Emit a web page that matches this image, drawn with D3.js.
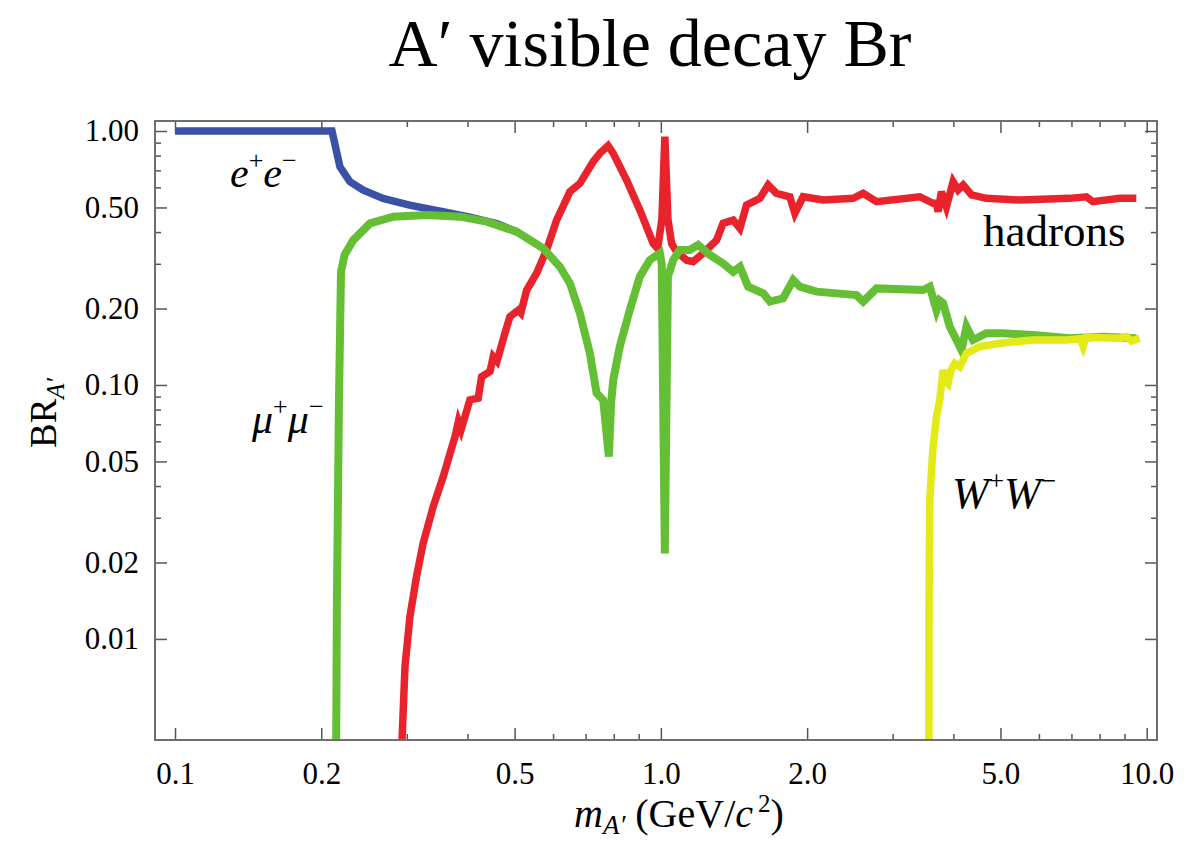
<!DOCTYPE html>
<html>
<head>
<meta charset="utf-8">
<script src="https://cdn.jsdelivr.net/npm/d3@7"></script>
<style>
  body { margin: 0; background: #fff; }
  svg { display: block; }
  text { font-family: "Liberation Serif", "DejaVu Serif", serif; fill: #000; }
</style>
</head>
<body>
<div id="chart"></div>
<script>
var svgWidth = 1189;
var svgHeight = 843;

// plot frame (pixels)
var frame = { left: 155, top: 121, right: 1157, bottom: 740 };

// ticks
var xMajorTicks = [0.1, 0.2, 0.5, 1, 2, 5, 10];
var xMajorLabels = ["0.1", "0.2", "0.5", "1.0", "2.0", "5.0", "10.0"];
var xMinorTicks = [0.3, 0.4, 0.6, 0.7, 0.8, 0.9, 3, 4, 6, 7, 8, 9];
var yMajorTicks = [1, 0.5, 0.2, 0.1, 0.05, 0.02, 0.01];
var yMajorLabels = ["1.00", "0.50", "0.20", "0.10", "0.05", "0.02", "0.01"];
var yMinorTicks = [0.9, 0.8, 0.7, 0.6, 0.4, 0.3, 0.09, 0.08, 0.07, 0.06, 0.04, 0.03];

// series: [mass (GeV), branching ratio]
var eePoints = [
  [0.1, 1.0], [0.2104, 1.0], [0.2185, 0.723], [0.229, 0.632], [0.2436, 0.586],
  [0.268, 0.543], [0.304, 0.511], [0.356, 0.481], [0.4045, 0.458], [0.459, 0.432],
  [0.5047, 0.4015]
];

var muPoints = [
  [0.2145, 0.003], [0.2154, 0.0142], [0.2175, 0.0873], [0.2196, 0.2786], [0.2233, 0.325],
  [0.2328, 0.372], [0.252, 0.433], [0.2813, 0.46], [0.3296, 0.467], [0.386, 0.46],
  [0.438, 0.4395], [0.5047, 0.4015], [0.5727, 0.345], [0.6197, 0.292], [0.65, 0.2513],
  [0.6814, 0.1915], [0.7143, 0.1333], [0.7374, 0.0928], [0.7608, 0.0873], [0.7816, 0.0522],
  [0.79, 0.085], [0.798, 0.1047], [0.823, 0.1415], [0.863, 0.1973], [0.905, 0.267],
  [0.949, 0.3105], [0.9955, 0.33], [1.004, 0.30], [1.019, 0.0217], [1.034, 0.267],
  [1.06, 0.31], [1.093, 0.34], [1.147, 0.340], [1.193, 0.356], [1.2617, 0.325],
  [1.343, 0.301], [1.409, 0.279], [1.4545, 0.292], [1.5124, 0.2438], [1.624, 0.2296],
  [1.677, 0.213], [1.785, 0.2195], [1.872, 0.259], [1.932, 0.2438], [2.091, 0.2331],
  [2.527, 0.226], [2.609, 0.213], [2.779, 0.240], [3.465, 0.2366], [3.577, 0.2438],
  [3.692, 0.197], [3.75, 0.215], [3.81, 0.21], [3.933, 0.1696], [4.06, 0.1504],
  [4.157, 0.137], [4.256, 0.1696], [4.39, 0.1504], [4.677, 0.1598], [5.06, 0.1598],
  [5.93, 0.157], [6.94, 0.1527], [8.13, 0.155], [9.52, 0.1527]
];

var hadronPoints = [
  [0.2915, 0.003], [0.2974, 0.00778], [0.3044, 0.01224], [0.3141, 0.01759], [0.3241, 0.02379],
  [0.34, 0.0332], [0.3565, 0.0436], [0.377, 0.0626], [0.383, 0.0717], [0.388, 0.0667],
  [0.4045, 0.0873], [0.4208, 0.0888], [0.4276, 0.1078], [0.445, 0.113], [0.4518, 0.1292],
  [0.46, 0.124], [0.4775, 0.1598], [0.489, 0.1858], [0.5085, 0.197], [0.515, 0.192],
  [0.5293, 0.236], [0.5549, 0.2754], [0.5818, 0.34], [0.6101, 0.446], [0.65, 0.577],
  [0.6814, 0.622], [0.7255, 0.757], [0.7489, 0.817], [0.7787, 0.875], [0.798, 0.817],
  [0.85, 0.641], [0.905, 0.489], [0.9643, 0.361], [0.985, 0.345], [1.005, 0.45],
  [1.019, 0.95], [1.034, 0.45], [1.052, 0.361], [1.077, 0.335], [1.13, 0.31],
  [1.1655, 0.306], [1.2218, 0.33], [1.302, 0.372], [1.343, 0.433], [1.409, 0.446],
  [1.4545, 0.414], [1.5009, 0.511], [1.5985, 0.543], [1.663, 0.613], [1.73, 0.568],
  [1.8427, 0.551], [1.887, 0.474], [1.9623, 0.551], [2.158, 0.535], [2.487, 0.543],
  [2.609, 0.568], [2.779, 0.527], [3.41, 0.551], [3.634, 0.519], [3.692, 0.519],
  [3.721, 0.481], [3.78, 0.577], [3.87, 0.503], [3.995, 0.631], [4.09, 0.586],
  [4.19, 0.613], [4.36, 0.560], [4.677, 0.543], [5.48, 0.535], [6.94, 0.543],
  [7.51, 0.551], [7.75, 0.527], [8.8, 0.543], [9.52, 0.543]
];

var wwPoints = [
  [3.562, 0.003], [3.565, 0.0142], [3.577, 0.0352], [3.628, 0.0555], [3.692, 0.075],
  [3.75, 0.0873], [3.81, 0.1146], [3.86, 0.104], [3.901, 0.1016], [3.96, 0.115],
  [4.027, 0.1217], [4.124, 0.118], [4.256, 0.1333], [4.534, 0.1415], [4.984, 0.146],
  [5.834, 0.1504], [6.836, 0.1504], [7.3, 0.152], [7.4, 0.142], [7.5, 0.154],
  [8.8, 0.1528], [9.1, 0.155], [9.3, 0.149], [9.67, 0.1528]
];

var svg = d3.select("#chart")
  .append("svg")
  .attr("width", svgWidth)
  .attr("height", svgHeight);

svg.append("rect")
  .attr("width", svgWidth)
  .attr("height", svgHeight)
  .attr("fill", "#fff");

// Scales
var xScale = d3.scaleLog()
  .domain([0.09095, 10.5])
  .range([frame.left, frame.right]);

var yScale = d3.scaleLog()
  .domain([0.004, 1.095])
  .range([frame.bottom, frame.top]);

// Clip for the curves
svg.append("clipPath")
  .attr("id", "plotClip")
  .append("rect")
  .attr("x", frame.left)
  .attr("y", frame.top)
  .attr("width", frame.right - frame.left)
  .attr("height", frame.bottom - frame.top);

var line = d3.line()
  .x(d => xScale(d[0]))
  .y(d => yScale(d[1]));

var curves = svg.append("g").attr("clip-path", "url(#plotClip)");

var seriesList = [
  { points: eePoints, color: "#3a51a8", width: 7.5 },
  { points: hadronPoints, color: "#e8232b", width: 7.5 },
  { points: muPoints, color: "#65bf35", width: 8 },
  { points: wwPoints, color: "#e3ea18", width: 7.5 }
];

seriesList.forEach(function(s) {
  curves.append("path")
    .datum(s.points)
    .attr("d", line)
    .attr("fill", "none")
    .attr("stroke", s.color)
    .attr("stroke-width", s.width);
});

// Axes (ticks point inward)
var tickColor = "#555";

function styleAxis(g) {
  g.select(".domain").remove();
  g.selectAll(".tick line").attr("stroke", tickColor).attr("stroke-width", 1.5);
  g.selectAll(".tick text")
    .attr("font-family", "Liberation Serif, serif")
    .attr("font-size", 31)
    .attr("fill", "#000");
}

svg.append("g")
  .attr("transform", `translate(0, ${frame.bottom})`)
  .call(d3.axisBottom(xScale).tickValues(xMajorTicks)
    .tickFormat((d, i) => xMajorLabels[i]).tickSizeInner(-12).tickPadding(22))
  .call(styleAxis);

svg.append("g")
  .attr("transform", `translate(0, ${frame.bottom})`)
  .call(d3.axisBottom(xScale).tickValues(xMinorTicks).tickFormat("").tickSizeInner(-6))
  .call(styleAxis);

svg.append("g")
  .attr("transform", `translate(0, ${frame.top})`)
  .call(d3.axisTop(xScale).tickValues(xMajorTicks).tickFormat("").tickSizeInner(-12))
  .call(styleAxis);

svg.append("g")
  .attr("transform", `translate(0, ${frame.top})`)
  .call(d3.axisTop(xScale).tickValues(xMinorTicks).tickFormat("").tickSizeInner(-6))
  .call(styleAxis);

svg.append("g")
  .attr("transform", `translate(${frame.left}, 0)`)
  .call(d3.axisLeft(yScale).tickValues(yMajorTicks)
    .tickFormat((d, i) => yMajorLabels[i]).tickSizeInner(-12).tickPadding(16))
  .call(styleAxis);

svg.append("g")
  .attr("transform", `translate(${frame.left}, 0)`)
  .call(d3.axisLeft(yScale).tickValues(yMinorTicks).tickFormat("").tickSizeInner(-6))
  .call(styleAxis);

svg.append("g")
  .attr("transform", `translate(${frame.right}, 0)`)
  .call(d3.axisRight(yScale).tickValues(yMajorTicks).tickFormat("").tickSizeInner(-12))
  .call(styleAxis);

svg.append("g")
  .attr("transform", `translate(${frame.right}, 0)`)
  .call(d3.axisRight(yScale).tickValues(yMinorTicks).tickFormat("").tickSizeInner(-6))
  .call(styleAxis);

// Frame
svg.append("rect")
  .attr("x", frame.left)
  .attr("y", frame.top)
  .attr("width", frame.right - frame.left)
  .attr("height", frame.bottom - frame.top)
  .attr("fill", "none")
  .attr("stroke", "#6e6e6e")
  .attr("stroke-width", 2);

// Title
svg.append("text")
  .attr("x", 650)
  .attr("y", 66)
  .attr("text-anchor", "middle")
  .attr("font-size", 68)
  .text("A\u2032 visible decay Br");

// Y axis label
var yLab = svg.append("text")
  .attr("transform", "translate(56, 413) rotate(-90)")
  .attr("text-anchor", "middle")
  .attr("font-size", 37);
yLab.append("tspan").text("BR");
yLab.append("tspan").attr("font-size", 25).attr("font-style", "italic").attr("dy", 8).text("A\u2032");

// X axis label
var xLab = svg.append("text")
  .attr("x", 574)
  .attr("y", 827)
  .attr("font-size", 40);
xLab.append("tspan").attr("font-style", "italic").text("m");
xLab.append("tspan").attr("font-style", "italic").attr("font-size", 27).attr("dy", 7).text("A\u2032");
xLab.append("tspan").attr("dy", -7).text("\u00a0(GeV/");
xLab.append("tspan").attr("font-style", "italic").text("c");
xLab.append("tspan").attr("font-size", 25).attr("dy", -15).text("\u2009" + "2");
xLab.append("tspan").attr("dy", 15).text(")");

// Curve labels
function pairLabel(x, y, size, base, sign1, sign2, italic) {
  var t = svg.append("text")
    .attr("x", x)
    .attr("y", y)
    .attr("font-size", size)
    .attr("font-style", italic ? "italic" : "normal");
  var sup = Math.round(size * 0.42);
  t.append("tspan").text(base);
  t.append("tspan").attr("font-size", size * 0.62).attr("font-style", "normal").attr("dy", -sup).text(sign1);
  t.append("tspan").attr("dy", sup).text(base);
  t.append("tspan").attr("font-size", size * 0.62).attr("font-style", "normal").attr("dy", -sup).text(sign2);
}

pairLabel(230, 187, 42, "e", "+", "\u2212", true);
pairLabel(252, 433, 42, "\u03bc", "+", "\u2212", true);
pairLabel(952, 508, 44, "W", "+", "\u2212", true);

svg.append("text")
  .attr("x", 983)
  .attr("y", 246)
  .attr("font-size", 45)
  .text("hadrons");
</script>
</body>
</html>
